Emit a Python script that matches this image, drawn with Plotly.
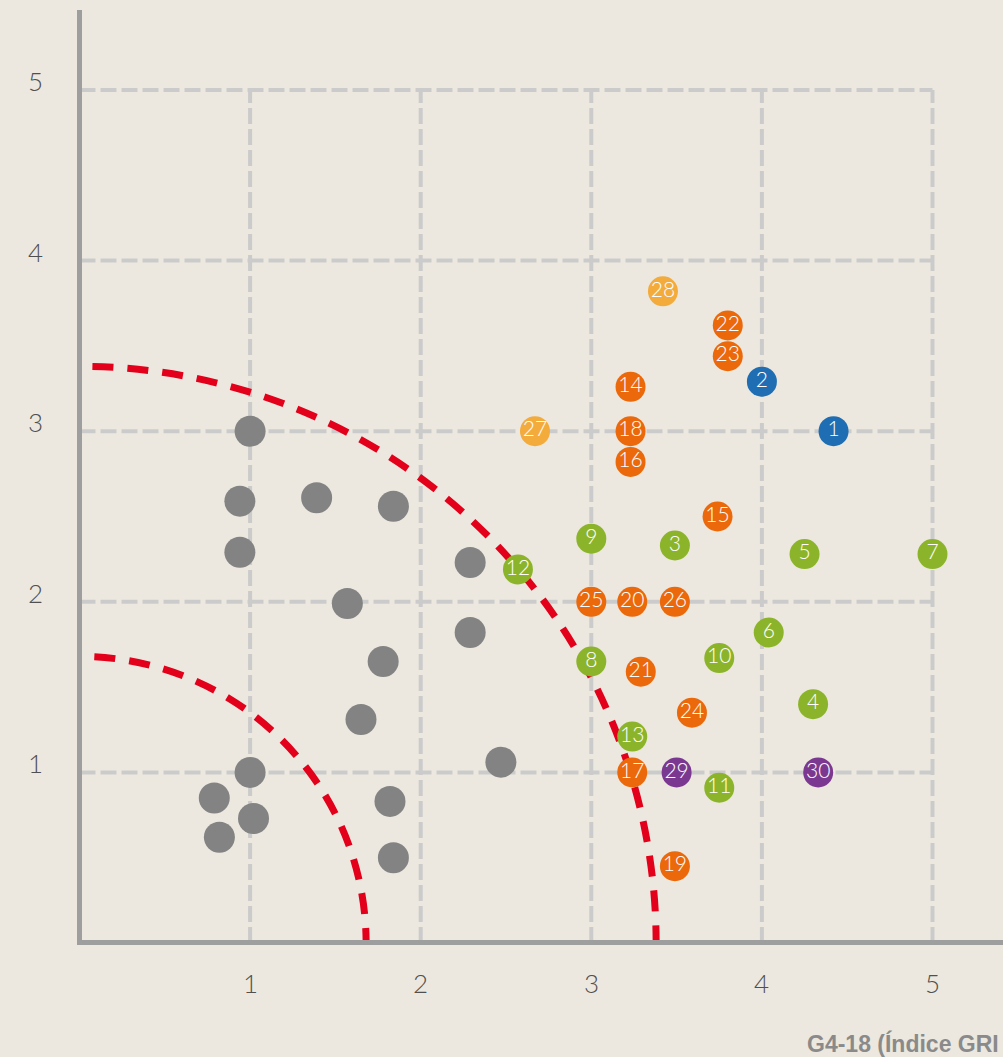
import plotly.graph_objects as go

# ---- data ----
gray_x = [1.0, 0.94, 1.39, 1.84, 0.94, 2.29, 1.57, 2.29, 1.78, 1.65, 2.47, 1.0, 0.79, 1.02, 0.82, 1.82, 1.84]
gray_y = [3.0, 2.59, 2.61, 2.56, 2.29, 2.23, 1.99, 1.82, 1.65, 1.31, 1.06, 1.0, 0.85, 0.73, 0.62, 0.83, 0.50]

labels = [str(i) for i in range(1, 31)]
pts_x = [4.42, 4.0, 3.49, 4.30, 4.25, 4.04, 5.0, 3.0, 3.0, 3.75,
         3.75, 2.57, 3.24, 3.23, 3.74, 3.23, 3.24, 3.23, 3.49, 3.24,
         3.29, 3.80, 3.80, 3.59, 3.0, 3.49, 2.67, 3.42, 3.50, 4.33]
pts_y = [3.0, 3.29, 2.33, 1.40, 2.28, 1.82, 2.28, 1.65, 2.37, 1.67,
         0.91, 2.19, 1.21, 3.26, 2.50, 2.82, 1.0, 3.0, 0.45, 2.0,
         1.59, 3.62, 3.44, 1.35, 2.0, 2.0, 3.0, 3.82, 1.0, 1.0]
groups = ["blue", "blue"] + ["green"] * 11 + ["orange"] * 13 + ["yellow", "yellow", "purple", "purple"]

group_colors = {"blue": "#1f6db3", "green": "#8cb42b", "orange": "#eb690b",
                "yellow": "#f3ab3c", "purple": "#7b3890"}

tick_vals = [1, 2, 3, 4, 5]
tick_text = ["1", "2", "3", "4", "5"]
curve_radii = [1.68, 3.38]
footer_text = "G4-18 (Índice GRI"

BG = "#ece8df"
W, H = 1003, 1057
L, R, T, B = 82, 0, 10, 117

# ---- figure ----
fig = go.Figure()

shapes = []
grid_max = tick_vals[-1]
for v in tick_vals:
    shapes.append(dict(type="line", xref="x", yref="y", x0=v, x1=v, y0=0, y1=grid_max,
                       line=dict(color="#cbcbcb", width=4, dash="16px,5px"), layer="below"))
    shapes.append(dict(type="line", xref="x", yref="y", x0=0, x1=grid_max, y0=v, y1=v,
                       line=dict(color="#cbcbcb", width=4, dash="16px,5px"), layer="below"))
for r in curve_radii:
    shapes.append(dict(type="circle", xref="x", yref="y", x0=-r, x1=r, y0=-r, y1=r,
                       line=dict(color="#e2001a", width=7, dash="21px,14px"), layer="below"))

fig.add_trace(go.Scatter(x=gray_x, y=gray_y, mode="markers",
                         marker=dict(size=31, color="#838383"), hoverinfo="skip"))

fig.add_trace(go.Scatter(x=pts_x, y=pts_y, mode="markers+text", text=labels,
                         textposition="middle center",
                         textfont=dict(family="Lato, Liberation Sans, Arial", size=21,
                                       color="white", weight=300),
                         marker=dict(size=30, color=[group_colors[g] for g in groups]),
                         hoverinfo="skip"))

tick_font = dict(family="Lato, Liberation Sans, Arial", size=26, color="#505050", weight=300)
annotations = []
for v, t in zip(tick_vals, tick_text):
    annotations.append(dict(x=v, y=0, xref="x", yref="paper", text=t, showarrow=False,
                            xanchor="center", yanchor="middle",
                            yshift=-43, font=tick_font))
    annotations.append(dict(x=0, y=v, xref="paper", yref="y", text=t, showarrow=False,
                            xanchor="center", yanchor="middle",
                            xshift=-47, yshift=9, font=tick_font))
pw, ph = W - L - R, H - T - B
annotations.append(dict(x=(805 - L) / pw, y=(H - B - 1043) / ph, xref="paper", yref="paper",
                        xanchor="left", yanchor="middle", text="<b>" + footer_text + "</b>",
                        showarrow=False,
                        font=dict(family="Liberation Sans, Arial", size=23, color="#8a8a8a")))

px_per_unit = 170.6
x_zero_px, y_zero_px = 79.5, 943.0
fig.update_layout(
    width=W, height=H,
    margin=dict(l=L, r=R, t=T, b=B),
    paper_bgcolor=BG, plot_bgcolor=BG,
    showlegend=False,
    shapes=shapes, annotations=annotations,
    xaxis=dict(range=[(L - x_zero_px) / px_per_unit, (W - R - x_zero_px) / px_per_unit],
               showgrid=False, zeroline=False, showticklabels=False, ticks="",
               showline=True, linecolor="#9e9e9e", linewidth=5, fixedrange=True),
    yaxis=dict(range=[(y_zero_px - (H - B)) / px_per_unit, (y_zero_px - T) / px_per_unit],
               showgrid=False, zeroline=False, showticklabels=False, ticks="",
               showline=True, linecolor="#9e9e9e", linewidth=5, fixedrange=True),
)

fig.write_html("out.html", config={"displayModeBar": False},
               post_script="document.body.style.margin='0';document.body.style.background='%s';"
                           "document.documentElement.style.background='%s';" % (BG, BG))
